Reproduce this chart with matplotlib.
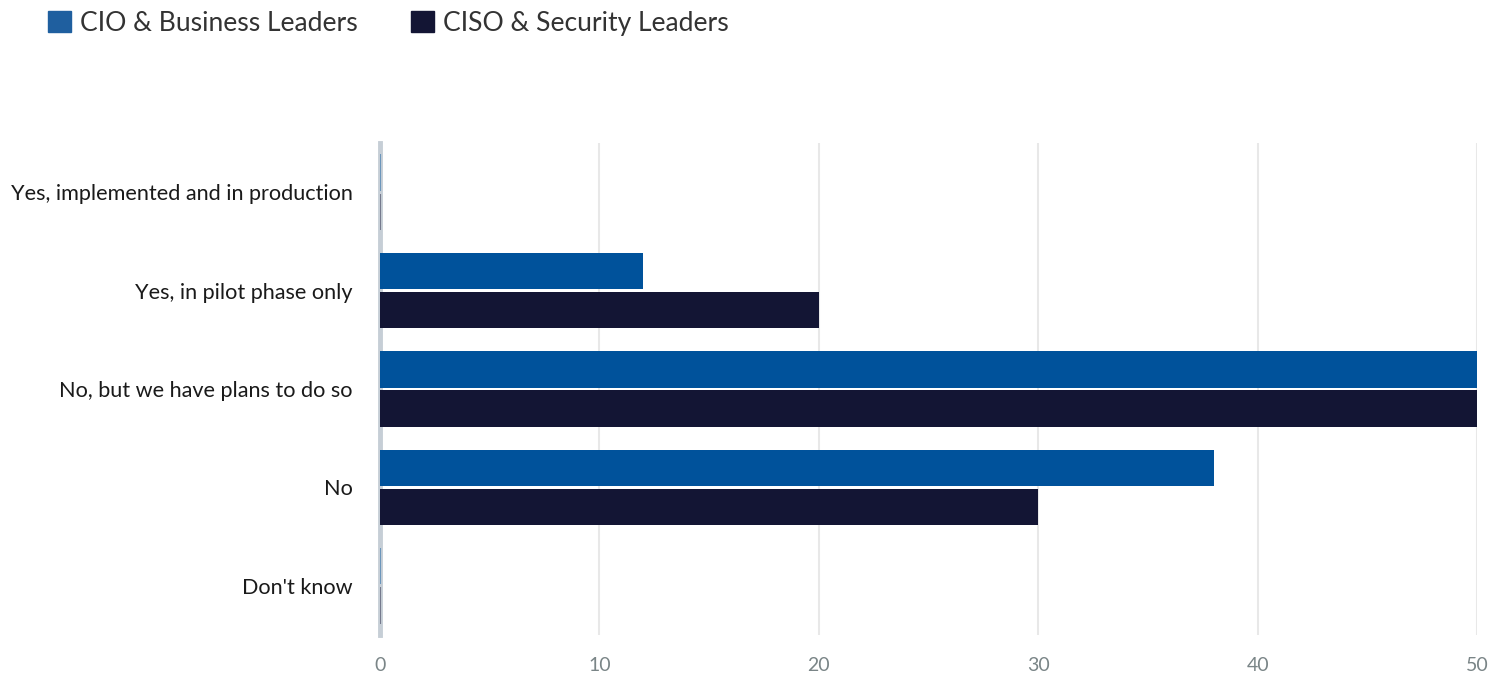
import matplotlib
matplotlib.use("Agg")
import matplotlib.pyplot as plt
from matplotlib.patches import Patch
import numpy as np

categories = ["Yes, implemented and in production", "Yes, in pilot phase only",
              "No, but we have plans to do so", "No", "Don't know"]
cio = [0, 12, 50, 38, 0]
ciso = [0, 20, 50, 30, 0]
series_names = ["CIO & Business Leaders", "CISO & Security Leaders"]
x_ticks = [0, 10, 20, 30, 40, 50]

c_cio = "#00529b"
c_ciso = "#131534"

plt.rcParams['font.family'] = ['Lato', 'DejaVu Sans']

fig = plt.figure(figsize=(15.07, 6.84), dpi=100)
ax = fig.add_axes([380/1507, 1 - 635/684, (1477-380)/1507, (635-143)/684])

y = np.arange(len(categories))
h = 0.37
off = 0.2
for vals, col, sign in [(cio, c_cio, -1), (ciso, c_ciso, 1)]:
    for yi, v in zip(y, vals):
        if v == 0:
            ax.bar(0, h, width=0.0, bottom=yi + sign*off - h/2, color=col,
                   edgecolor=col, linewidth=1.5, alpha=0.45, zorder=3)
        else:
            ax.barh(yi + sign*off, v, height=h, color=col, zorder=3)

ax.set_ylim(4.5, -0.5)
ax.set_xlim(0, 50)
ax.set_xticks(x_ticks)
ax.set_xticklabels([str(t) for t in x_ticks], color="#7a8587", fontsize=14)
ax.set_yticks(y)
ax.set_yticklabels(categories, fontsize=15.6, color="#1a1a1a")
ax.tick_params(axis='both', length=0)
ax.tick_params(axis='x', pad=16)
ax.tick_params(axis='y', pad=19.5)
ax.grid(axis='x', color="#e8e8e8", linewidth=1.5, zorder=0)
for s in ['top', 'right', 'bottom']:
    ax.spines[s].set_visible(False)
ax.spines['left'].set_color("#c6ced6")
ax.spines['left'].set_linewidth(3.5)
ax.spines['left'].set_zorder(2)

handles = [Patch(color="#1f5f9f", label=series_names[0]),
           Patch(color=c_ciso, label=series_names[1])]
fig.legend(handles=handles, loc='upper left', bbox_to_anchor=(24/1507, 1 + 13/684),
           ncol=2, frameon=False, fontsize=19.1, handlelength=0.87, handleheight=0.87,
           handletextpad=0.35, columnspacing=2.0, labelcolor="#333333")

fig.savefig("out.png", dpi=100)
